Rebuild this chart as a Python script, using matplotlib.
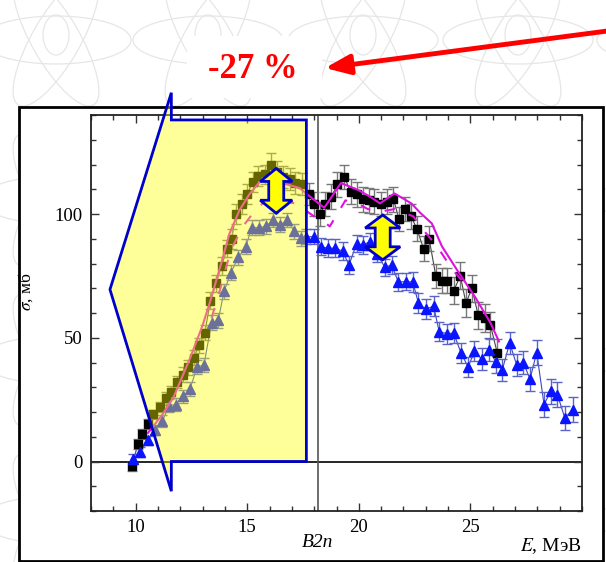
import matplotlib
matplotlib.use("Agg")
import matplotlib.pyplot as plt
import matplotlib.patches as mpatches
import matplotlib.transforms as mtransforms
from matplotlib.ticker import MultipleLocator

plt.rcParams["font.family"] = ["Liberation Serif", "DejaVu Serif"]
plt.rcParams["mathtext.fontset"] = "stix"

# ---------------------- data ----------------------
# black squares: experiment
sq_e = [9.83, 10.1, 10.3, 10.55, 10.8,
        11.07, 11.34, 11.6, 11.85, 12.1,
        12.35, 12.6, 12.85, 13.1, 13.35,
        13.6, 13.85, 14.1, 14.3, 14.5,
        14.75, 15.0, 15.25, 15.5, 15.8,
        16.07, 16.35, 16.6, 16.9, 17.15,
        17.45, 17.75, 18.0, 18.25, 18.5,
        18.77, 19.04, 19.35, 19.63, 19.9,
        20.2, 20.45, 20.7, 21.0, 21.25,
        21.55, 21.8, 22.05, 22.35, 22.6,
        22.9, 23.15, 23.45, 23.72, 23.95,
        24.25, 24.55, 24.8, 25.07, 25.35,
        25.65, 25.9, 26.2]
sq_s = [-2, 7, 11, 15, 19,
        22, 25.5, 28, 32, 35,
        38, 42, 47, 52, 65,
        72, 79, 86, 90, 100,
        104, 108, 113, 115.5, 116,
        120, 117, 115, 114, 112.5,
        112, 108, 104, 100, 104,
        107, 112, 115, 109, 108,
        106, 105.5, 105, 104, 105,
        106, 98, 102, 99, 94,
        86, 90, 75, 73, 73,
        69, 75, 64, 70, 59,
        58, 55, 44]
sq_err = [2, 2, 2, 2, 2,
          2, 2.5, 2.5, 2.5, 3,
          3, 3, 3, 3, 3.5,
          3.5, 3.5, 3.5, 4, 4,
          4, 4, 4, 4, 4,
          4.5, 4.5, 4.5, 4.5, 4.5,
          4.5, 4.5, 5, 5, 5,
          5, 5, 5, 5, 5,
          5, 5, 5, 5, 5,
          5, 5, 5, 5, 5,
          5, 5, 5, 5, 5,
          5.5, 5.5, 5.5, 5.5, 5.5,
          5.5, 5.5, 5.5]

# blue triangles: experiment
tr_e = [9.9, 10.2, 10.55, 10.85, 11.2,
        11.5, 11.8, 12.13, 12.43, 12.76,
        13.06, 13.4, 13.7, 13.96, 14.27,
        14.6, 14.94, 15.2, 15.54, 15.84,
        16.17, 16.47, 16.8, 17.1, 17.4,
        17.65, 17.97, 18.3, 18.6, 18.95,
        19.27, 19.56, 19.9, 20.17, 20.5,
        20.8, 21.17, 21.47, 21.77, 22.1,
        22.42, 22.67, 23.0, 23.35, 23.6,
        23.95, 24.25, 24.58, 24.9, 25.18,
        25.5, 25.82, 26.13, 26.43, 26.76,
        27.07, 27.37, 27.67, 27.97, 28.3,
        28.6, 28.9, 29.23, 29.58]
tr_s = [1, 4, 8.5, 12.6, 16.3,
        22.6, 23, 26.3, 29.3, 38.2,
        39, 56, 57, 68.7, 76.3,
        82.5, 86.8, 94.5, 94.5, 95,
        97.6, 95.6, 97.6, 93, 90.2,
        90.8, 90.8, 86.8, 86.2, 86.2,
        85, 79.4, 88, 87.5, 88.8,
        84, 78.5, 79.4, 72.5, 72.7,
        72.5, 64, 61.5, 62.8, 52.5,
        51.6, 51.9, 43.8, 38.2, 44.5,
        41.4, 45.2, 40.4, 37.1, 47.9,
        39.1, 40, 33.3, 44, 23,
        28.4, 27, 17.6, 21]
tr_err = [2, 2, 2, 2, 2.5,
          2.5, 2.5, 2.5, 3, 3,
          3, 3, 3, 3, 3,
          3, 3, 3, 3, 3,
          3, 3, 3, 3, 3,
          3, 3, 3.5, 3.5, 3.5,
          3.5, 3.5, 3.5, 3.5, 3.5,
          3.5, 3.5, 3.5, 3.5, 3.5,
          4, 4, 4, 4, 4,
          4, 4, 4, 4, 4,
          4.5, 4.5, 4.5, 4.5, 4.5,
          4.5, 4.5, 5, 5, 5,
          5, 5, 5, 5]

# magenta curves: evaluation (solid) and its second variant (dashed)
ev_e = [10.55, 11.2, 11.7, 12.45, 13.0, 13.35, 13.8, 14.2, 14.65, 15.1,
        15.7, 16.2, 16.75, 17.35, 17.75, 18.1, 18.45, 19.2, 19.97, 20.5,
        20.95, 21.6, 22.35, 22.75, 23.27, 23.72, 24.4, 25.2, 25.9, 26.28]
ev_s = [11.5, 19, 26, 42, 55, 65, 79, 92, 101.5, 108,
        114.5, 113.5, 112, 110.5, 107.5, 105, 102.5, 112.5, 109.7, 107,
        104.3, 108.3, 104.3, 100.5, 96.2, 87, 77.4, 66.6, 56, 48.5]
ev2_e = [13.4, 13.8, 14.1, 14.35, 14.85, 15.4, 15.85, 16.3, 16.75, 17.3,
         17.6, 18.0, 18.4, 18.7, 19.4, 20.0, 20.4, 21.0, 21.6, 22.45,
         22.75, 23.5, 24.2, 24.85]
ev2_s = [58, 70, 80, 87, 95.5, 102, 105.5, 105.5, 105, 104,
         101.5, 99, 97, 95, 105.5, 104, 102, 101, 102, 99,
         95, 87, 77.5, 70.7]

B2N = 18.15
# --------------------------------------------------------------------------

W, H = 606, 562
fig = plt.figure(figsize=(W / 100, H / 100), dpi=100)

# background layer in pixel coords (watermark, frame, red note)
bg = fig.add_axes([0, 0, 1, 1], zorder=0)
bg.set_xlim(0, W)
bg.set_ylim(H, 0)
bg.axis("off")

wm = "#e6e6e6"
for cy in (40, 200, 360, 520):
    for cx in (-98, 56, 208, 363, 518, 672):
        for ang in (0, 60, 120):
            bg.add_patch(mpatches.Ellipse((cx, cy), 150, 48, angle=ang,
                                          fill=False, ec=wm, lw=0.9))
        bg.add_patch(mpatches.Ellipse((cx, cy - 5), 26, 40, fill=False, ec=wm, lw=0.9))

bg.add_patch(mpatches.Rectangle((19, 107), 584, 454, fc="white", ec="black",
                                lw=2, zorder=2))
bg.add_patch(mpatches.Rectangle((187, 36), 135, 62, fc="white", ec="none", zorder=3))
bg.text(253, 69, "-27 %", color="red", fontsize=25, fontweight="bold",
        ha="center", va="center", zorder=4)
bg.annotate("", xy=(325, 68), xytext=(615, 30), annotation_clip=False,
            arrowprops=dict(arrowstyle="-|>,head_length=0.75,head_width=0.3",
                            mutation_scale=20, color="red", lw=3.5,
                            shrinkA=0, shrinkB=0), zorder=4)

# main plot
ax = fig.add_axes([91 / W, 1 - 511 / H, (582 - 91) / W, (511 - 115) / H], zorder=1)
ax.set_xlim(8, 30)
ax.set_ylim(-20, 140)

ax.axhline(0, color="black", lw=1.2, zorder=1)
ax.axvline(B2N, color="#555555", lw=1.2, zorder=1)

ax.plot(sq_e, sq_s, color="#444444", lw=0.8, zorder=2)
ax.errorbar(sq_e, sq_s, yerr=sq_err, fmt="s", ms=6, mfc="black", mec="black",
            ecolor="#777777", elinewidth=1, capsize=3.5, zorder=3)
ax.plot(tr_e, tr_s, color="#3c46c0", lw=0.8, zorder=2)
ax.errorbar(tr_e, tr_s, yerr=tr_err, fmt="^", ms=7.5, mfc="#0a14ff", mec="#0a14ff",
            ecolor="#5a64c8", elinewidth=1, capsize=3.5, zorder=3)

ax.plot(ev_e, ev_s, color="#e010e0", lw=1.5, zorder=4)
ax.plot(ev2_e, ev2_s, color="#e010e0", lw=1.5, dashes=(5, 7), zorder=4)

# yellow arrow-shaped highlight (annotation, data coords)
hl_poly = [(11.6, 149), (11.6, 138), (17.65, 138), (17.65, 0),
           (11.6, 0), (11.6, -12), (8.85, 69.5)]
ax.add_patch(mpatches.Polygon(hl_poly, closed=True, fc=(1, 1, 0, 0.4),
                              ec="#0000cc", lw=2, clip_on=False, zorder=5))


def double_arrow(x, y0, y1, head_w, shaft_w, head_l):
    p0 = ax.transData.transform((x, y0))
    p1 = ax.transData.transform((x, y1))
    L = p1[1] - p0[1]
    hw, sw = head_w / 2, shaft_w / 2
    verts = [(0, 0), (hw, head_l), (sw, head_l), (sw, L - head_l), (hw, L - head_l),
             (0, L), (-hw, L - head_l), (-sw, L - head_l), (-sw, head_l), (-hw, head_l)]
    tr = mtransforms.ScaledTranslation(x, y0, ax.transData)
    ax.add_patch(mpatches.Polygon(verts, closed=True, transform=tr, fc="#ffff00",
                                  ec="#0000cc", lw=2, zorder=7, clip_on=False))


double_arrow(16.3, 100.3, 118.4, 32, 15, 13)
double_arrow(21.07, 81.5, 99.6, 35, 15, 13)

ax.set_xticks([10, 15, 20, 25])
ax.set_yticks([0, 50, 100])
ax.xaxis.set_minor_locator(MultipleLocator(1))
ax.yaxis.set_minor_locator(MultipleLocator(10))
ax.tick_params(which="both", direction="in", top=True, right=True,
               labelsize=13.5, color="#333333", width=1)
ax.tick_params(which="major", length=6, pad=6)
ax.tick_params(which="minor", length=3.5)
for sp in ax.spines.values():
    sp.set_linewidth(1.3)
    sp.set_color("#222222")

ax.set_ylabel(r"$\sigma$, мб", fontsize=12.5)
ax.yaxis.set_label_coords((35 - 91) / 491, (511 - 292) / 396)

bg.text(582, 551, r"$E$, МэВ", ha="right", va="baseline", fontsize=14, zorder=4)
bg.text(318, 547, "B2n", ha="center", va="baseline", fontsize=14,
        fontstyle="italic", zorder=4)

# reaction label
bg.text(380, 168, "As(γ,xn)", fontsize=26, fontweight="bold", ha="left",
        va="baseline", zorder=4)
bg.text(378, 156, "75", fontsize=16, fontweight="bold", ha="right",
        va="baseline", zorder=4)

fig.savefig("out.png", dpi=100)
